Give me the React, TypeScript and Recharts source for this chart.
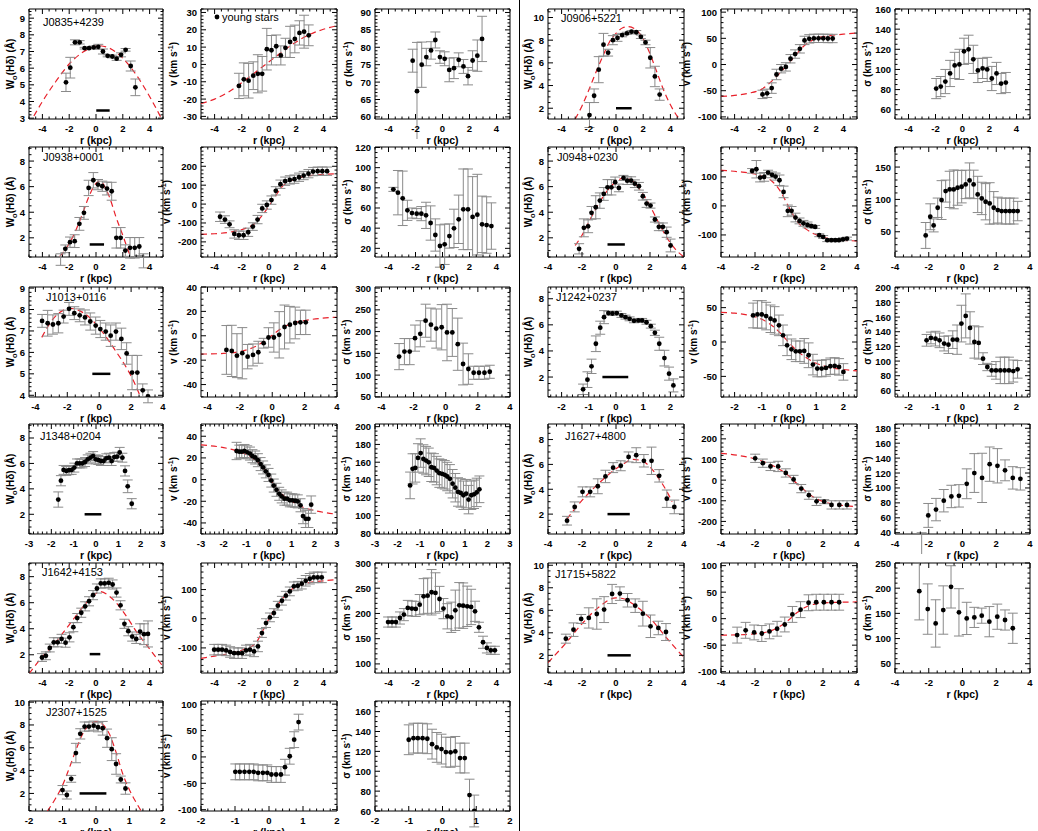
import React from 'react'
import {
  ComposedChart,
  Scatter,
  Line,
  XAxis,
  YAxis,
  ErrorBar,
  ReferenceLine,
  ReferenceArea,
} from 'recharts'

type Pt = [number, number, number] // r, value, error
type XY = [number, number]
type Bar = [number, number, number] // r from, r to, level

// ---------- left column ----------
const j0835W: Pt[] = [[-2.24,5.15,0.55],[-1.92,6.03,0.62],[-1.57,7.55,0.15],[-1.22,7.55,0.1],[-0.85,7.2,0.05],[-0.52,7.2,0.05],[-0.17,7.25,0.08],[0.17,7.28,0.15],[0.52,7.0,0.15],[0.87,6.74,0.06],[1.22,6.7,0.08],[1.54,6.57,0.1],[1.87,6.8,0.12],[2.21,7.1,0.08],[2.59,6.13,0.3],[2.94,4.85,0.5]]
const j0835WFit: XY[] = [[-5,2.6],[-4,4.0],[-3,5.2],[-2,6.25],[-1,6.95],[0,7.32],[0.2,7.35],[1,7.2],[2,6.6],[3,5.6],[4,4.3],[5,2.8]]
const j0835Bar: Bar = [0.02, 1.02, 3.46]
const j0835V: Pt[] = [[-2.21,-12.4,7.3],[-1.85,-8.6,9.5],[-1.5,-9.4,10],[-1.16,-6.5,8],[-0.82,-5.4,11],[-0.5,-5.4,10],[-0.16,8.8,12],[0.18,8.2,8.5],[0.53,10.5,6.5],[0.87,5.2,5.5],[1.21,9.6,5.5],[1.55,13,9],[1.9,14.7,8],[2.24,18.2,7],[2.58,18.9,9.5],[2.92,16.8,6]]
const j0835VFit: XY[] = [[-5,-22.5],[-4,-20],[-3,-16],[-2,-10.5],[-1,-4.5],[0,1.5],[1,7.5],[2,13],[3,17.3],[4,20.3],[5,22.3]]
const j0835S: Pt[] = [[-2.21,76.15,3.3],[-1.89,67.4,14],[-1.54,75.0,6.5],[-1.2,77.2,2.5],[-0.85,79.1,2.5],[-0.53,82.1,2.3],[-0.19,77.2,1.8],[0.16,76.7,2],[0.5,73.5,3.4],[0.85,74.0,3],[1.2,76.4,2],[1.55,74.5,2],[1.89,71.7,2.5],[2.23,76.2,2.8],[2.58,77.6,4.5],[2.93,82.4,6.5]]

const j0938W: Pt[] = [[-2.64,0.3,0.45],[-2.29,1.14,0.3],[-1.94,1.66,0.4],[-1.59,1.74,0.5],[-1.24,3.09,0.5],[-0.9,3.95,0.5],[-0.55,5.9,0.6],[-0.2,6.5,0.6],[0.15,6.16,0.4],[0.47,6.03,0.4],[0.82,5.85,0.5],[1.17,5.64,0.7],[1.52,2.0,0.8],[1.84,2.0,0.8],[2.19,1.0,0.45],[2.54,1.22,0.8],[2.89,1.22,0.8],[3.23,1.32,0.7],[3.55,0.2,0.55]]
const j0938WFit: XY[] = [[-2.7,0.55],[-2,1.55],[-1.5,2.6],[-1,3.9],[-0.5,5.3],[0,6.25],[0.3,6.45],[0.7,5.9],[1,5.2],[1.5,3.6],[2,2.2],[2.5,0.75],[2.7,0.3]]
const j0938Bar: Bar = [-0.47, 0.6, 1.48]
const j0938V: Pt[] = [[-3.6,-67,25],[-3.24,-82,20],[-2.9,-107,18],[-2.55,-158,22],[-2.21,-165,22],[-1.87,-165,22],[-1.53,-149,22],[-1.19,-119,20],[-0.84,-82,22],[-0.5,-23,22],[-0.16,-5,22],[0.18,21,22],[0.5,70,22],[0.84,105,22],[1.19,121,22],[1.53,128,22],[1.87,132,22],[2.21,142,22],[2.55,151,22],[2.9,161,22],[3.24,172,22],[3.58,174,22],[3.92,174,22],[4.27,174,22]]
const j0938VFit: XY[] = [[-5,-160],[-4,-157],[-3,-150],[-2,-135],[-1.5,-122],[-1,-100],[-0.5,-60],[0,-10],[0.5,45],[1,95],[1.5,120],[2,135],[3,150],[4,157],[5,160]]
const j0938S: Pt[] = [[-3.64,78.5,2],[-3.3,75.2,22],[-2.95,69.6,27],[-2.6,57.7,10],[-2.26,55,5],[-1.91,54.4,5],[-1.57,54.4,7],[-1.22,52.7,13],[-0.88,45.1,17],[-0.53,33.2,16],[-0.19,22.3,21],[0.16,24,20],[0.51,32.2,12],[0.85,39.8,19],[1.2,48.8,24],[1.54,58.7,40],[1.89,58.7,40],[2.23,51.1,40],[2.58,53.4,40],[2.93,43.8,28],[3.27,43.1,28],[3.62,42.1,23]]

const j1013W: Pt[] = [[-3.58,7.47,0.3],[-3.23,7.36,0.6],[-2.9,7.3,0.45],[-2.56,7.36,0.45],[-2.23,7.67,0.3],[-1.89,8.03,0.3],[-1.56,7.83,0.3],[-1.22,7.73,0.3],[-0.89,7.63,0.35],[-0.56,7.44,0.4],[-0.22,7.25,0.4],[0.07,7.09,0.4],[0.41,6.97,0.4],[0.72,6.78,0.5],[1.05,6.97,0.4],[1.39,6.63,0.5],[1.72,5.95,0.5],[2.06,5.06,0.8],[2.39,5.06,0.8],[2.73,4.23,0.3],[3.06,3.95,0.3]]
const j1013WFit: XY[] = [[-3.6,6.7],[-3,7.45],[-2.5,7.85],[-1.8,8.05],[-1,7.85],[-0.3,7.4],[0.4,6.75],[1,6.1],[1.7,5.3],[2.2,4.6],[2.6,3.9]]
const j1013Bar: Bar = [-0.43, 0.7, 5.0]
const j1013V: Pt[] = [[-2.83,-11.6,20],[-2.5,-12.4,21],[-2.18,-16.3,18],[-1.85,-14.3,21],[-1.52,-17.1,10],[-1.19,-15.7,9],[-0.86,-13.5,9],[-0.53,-6.1,4],[-0.23,-1.4,8],[0.1,-1.4,12],[0.43,0.8,19],[0.76,7.2,18],[1.09,9.1,15],[1.42,10.5,13],[1.74,11,10],[2.07,11,10]]
const j1013VFit: XY[] = [[-4.4,-15],[-3,-14.5],[-2,-13],[-1,-8.5],[-0.5,-4.5],[0,0.5],[0.5,5.5],[1,9],[2,12.5],[3,14.3],[4,15.2]]
const j1013S: Pt[] = [[-2.9,142.5,30],[-2.57,154,30],[-2.24,154,30],[-1.91,185,30],[-1.58,195,30],[-1.25,225,38],[-0.92,216,38],[-0.59,207,45],[-0.25,210,52],[0.08,198,65],[0.41,198,55],[0.75,171,60],[1.08,125.5,48],[1.41,114,35],[1.74,105.4,15],[2.07,105.4,15],[2.41,105.4,15],[2.74,107.7,15]]

const j1348W: Pt[] = [[-1.69,3.16,0.6],[-1.57,4.64,0.4],[-1.45,5.49,0.35],[-1.33,5.41,0.35],[-1.21,5.47,0.35],[-1.09,5.49,0.35],[-0.97,5.67,0.35],[-0.85,6.0,0.35],[-0.73,6.0,0.35],[-0.61,6.0,0.35],[-0.49,6.11,0.35],[-0.37,6.32,0.35],[-0.25,6.45,0.35],[-0.13,6.58,0.35],[-0.01,6.32,0.35],[0.1,6.27,0.35],[0.22,6.19,0.35],[0.34,6.19,0.35],[0.46,6.4,0.35],[0.58,6.45,0.35],[0.7,6.19,0.35],[0.82,6.5,0.35],[0.94,6.53,0.35],[1.06,6.86,0.4],[1.18,6.45,0.35],[1.3,5.41,0.4],[1.42,4.2,0.5],[1.6,2.83,0.4]]
const j1348Bar: Bar = [-0.51, 0.24, 2.0]
const j1348V: Pt[] = [[-1.43,26.4,8],[-1.31,25.8,6],[-1.2,25.8,6],[-1.08,26.4,6],[-0.96,25.2,6],[-0.84,24,6],[-0.73,21.6,6],[-0.61,20.4,6],[-0.49,17.9,6],[-0.37,14.3,6],[-0.26,11.2,6],[-0.14,7.6,6],[-0.02,4.3,6],[0.1,-0.9,6],[0.21,-5.5,6],[0.33,-9.4,6],[0.45,-13.1,6],[0.56,-15.5,6],[0.68,-17.6,6],[0.8,-17.6,6],[0.92,-19.1,6],[1.03,-19.1,6],[1.15,-19.5,6],[1.27,-20.1,6],[1.39,-23.7,6],[1.5,-33.7,7],[1.62,-36.2,8],[1.74,-36.2,8],[1.86,-23.1,8]]
const j1348VFit: XY[] = [[-3,32],[-2,29.5],[-1.5,27],[-1,23],[-0.5,16],[0,3],[0.3,-7],[0.6,-14],[1,-20],[1.5,-25.5],[2,-28.5],[3,-32]]
const j1348S: Pt[] = [[-1.44,133.9,15],[-1.33,152.5,17],[-1.21,153.6,16],[-1.09,164.8,16],[-0.97,170.3,16],[-0.85,163.6,16],[-0.73,161.8,16],[-0.61,159.9,16],[-0.5,154.3,16],[-0.38,153.6,16],[-0.26,150.6,16],[-0.14,147.7,16],[-0.02,146.9,16],[0.1,145.8,16],[0.21,143.9,16],[0.33,141.3,16],[0.45,135.8,16],[0.57,131.3,16],[0.69,126.5,16],[0.81,125.4,16],[0.93,122.8,16],[1.05,124.6,16],[1.16,117.9,16],[1.28,122.8,16],[1.4,123.9,16],[1.52,126,16],[1.64,129.5,15]]

const j1642W: Pt[] = [[-4.03,1.79,0.3],[-3.74,1.92,0.3],[-3.45,2.52,0.3],[-3.15,2.96,0.35],[-2.86,2.96,0.35],[-2.57,3.22,0.35],[-2.27,2.93,0.35],[-1.98,3.34,0.35],[-1.69,4.12,0.35],[-1.4,4.82,0.35],[-1.1,5.23,0.35],[-0.81,5.72,0.35],[-0.52,6.11,0.35],[-0.22,6.58,0.35],[0.07,7.09,0.35],[0.36,7.48,0.35],[0.65,7.48,0.35],[0.95,7.53,0.35],[1.24,7.4,0.35],[1.53,6.78,0.35],[1.83,5.8,0.35],[2.12,4.38,0.35],[2.41,3.81,0.35],[2.7,3.4,0.35],[3.0,3.22,0.35],[3.29,3.78,0.6],[3.58,3.58,0.8],[3.88,3.6,1.0]]
const j1642WFit: XY[] = [[-5,0.55],[-4,1.85],[-3,3.0],[-2,4.3],[-1,5.65],[0,6.7],[0.3,6.85],[1,6.5],[2,5.35],[2.5,4.6],[3,3.8],[4,2.45],[5,1.1]]
const j1642Bar: Bar = [-0.47, 0.32, 2.05]
const j1642V: Pt[] = [[-4.03,-106,18],[-3.74,-106,18],[-3.45,-106,18],[-3.15,-108.6,18],[-2.86,-114,18],[-2.57,-118,18],[-2.27,-118,18],[-1.98,-118,18],[-1.69,-108.6,18],[-1.4,-106,18],[-1.1,-112,18],[-0.81,-95,18],[-0.52,-49,15],[-0.22,-15,15],[0.07,4.6,15],[0.36,19.4,15],[0.65,44.6,15],[0.95,61.7,15],[1.24,78.9,15],[1.53,93.7,15],[1.83,110.9,15],[2.12,113,15],[2.41,120,18],[2.7,130,18],[3.0,137,18],[3.29,141.7,18],[3.58,141.7,18],[3.88,141.7,18]]
const j1642VFit: XY[] = [[-5,-136],[-4,-128],[-3,-120],[-2,-108],[-1,-85],[-0.5,-45],[0,0],[0.5,38],[1,70],[1.5,95],[2,110],[3,124],[4,130],[5,134]]
const j1642S: Pt[] = [[-4.03,183,10],[-3.74,183,10],[-3.45,183,10],[-3.15,191,12],[-2.86,197.7,12],[-2.57,210.9,15],[-2.27,209.6,15],[-1.98,209,15],[-1.69,217.5,20],[-1.4,234,35],[-1.1,235.3,35],[-0.81,242,45],[-0.52,240.6,40],[-0.22,228.7,25],[0.07,209.6,20],[0.36,194.4,25],[0.65,192.4,30],[0.95,206.3,40],[1.24,216.2,45],[1.53,215.5,45],[1.83,214.2,40],[2.12,212.9,35],[2.41,204.3,20],[2.7,172.6,10],[3.0,142.9,12],[3.29,131.7,10],[3.58,127,8],[3.88,127,8]]

const j2307W: Pt[] = [[-1.0,2.29,0.4],[-0.87,1.86,0.35],[-0.74,3.28,0.3],[-0.6,5.54,0.85],[-0.47,7.22,0.45],[-0.34,7.86,0.4],[-0.21,7.86,0.4],[-0.07,7.94,0.4],[0.06,7.8,0.4],[0.2,7.71,0.6],[0.33,6.84,0.8],[0.47,5.88,1.0],[0.6,4.58,0.9],[0.74,3.22,0.3],[0.88,2.43,0.5]]
const j2307WFit: XY[] = [[-1.45,0.45],[-1.2,1.6],[-1,2.7],[-0.8,4.2],[-0.6,5.8],[-0.4,7.2],[-0.2,8.0],[0,8.3],[0.2,8.05],[0.4,7.2],[0.6,5.6],[0.8,3.7],[1,2.3],[1.2,1.2],[1.35,0.45]]
const j2307Bar: Bar = [-0.49, 0.31, 2.0]
const j2307V: Pt[] = [[-0.99,-28.3,15],[-0.86,-28.3,15],[-0.72,-28.3,15],[-0.58,-28.3,15],[-0.45,-28.3,15],[-0.32,-30.2,15],[-0.18,-30.2,15],[-0.05,-30.2,15],[0.07,-33.3,15],[0.21,-33.3,15],[0.35,-33.3,15],[0.47,-19.5,15],[0.61,1.3,15],[0.74,32.7,15],[0.87,66,15]]
const j2307S: Pt[] = [[-1.0,131.7,15],[-0.86,133.3,15],[-0.73,133.3,15],[-0.59,133.3,15],[-0.45,132.7,15],[-0.31,127.3,15],[-0.17,124,15],[-0.03,122.3,15],[0.1,119.3,15],[0.24,119,15],[0.38,120,15],[0.52,113.3,15],[0.66,113.3,15],[0.8,76,16],[0.94,60,16]]

// ---------- right column ----------
const j0906W: Pt[] = [[-1.95,1.4,1.1],[-1.61,3.1,0.6],[-1.27,5.4,1.15],[-0.92,7.6,1.0],[-0.58,6.9,0.3],[-0.23,8.0,0.4],[0.11,8.2,0.3],[0.45,8.45,0.15],[0.8,8.6,0.1],[1.14,8.75,0.1],[1.49,8.7,0.15],[1.83,8.3,0.15],[2.17,7.8,0.2],[2.52,6.45,0.9],[2.86,4.8,0.9],[3.21,3.2,0.5]]
const j0906WFit: XY[] = [[-3,1.05],[-2.5,2.2],[-2,3.6],[-1.5,5.1],[-1,6.5],[-0.5,7.8],[0,8.6],[0.5,9.1],[0.9,9.2],[1.5,8.9],[2,8.1],[2.5,6.8],[3,5.2],[3.5,3.6],[4,2.3],[4.5,1.3],[4.7,1.0]]
const j0906Bar: Bar = [0, 1.15, 2.0]
const j0906V: Pt[] = [[-1.95,-57,8],[-1.61,-55,8],[-1.27,-45,10],[-0.92,-19,10],[-0.58,-8,8],[-0.23,-4.5,8],[0.11,11,8],[0.45,20,8],[0.8,30,8],[1.14,46,8],[1.49,49,8],[1.83,50,8],[2.17,50,8],[2.52,50,8],[2.86,49.7,8],[3.21,49.7,8]]
const j0906VFit: XY[] = [[-5,-61],[-4,-59],[-3,-55],[-2,-47],[-1,-25],[0,3],[0.5,18],[1,33],[1.5,43],[2,50],[3,55],[4,58],[5,60]]
const j0906S: Pt[] = [[-1.95,81,10],[-1.61,83,10],[-1.27,88,12],[-0.92,96,13],[-0.58,104,13],[-0.23,105,15],[0.11,118,13],[0.45,120,14],[0.8,110,14],[1.14,99,12],[1.49,101,10],[1.83,100,12],[2.17,91,12],[2.52,96,11],[2.86,86,10],[3.21,87,10]]

const j0948W: Pt[] = [[-2.17,1.14,0.4],[-1.89,2.78,0.7],[-1.64,2.9,0.5],[-1.44,3.95,0.5],[-1.19,4.39,0.9],[-0.95,4.91,0.6],[-0.72,5.43,0.5],[-0.5,5.95,0.6],[-0.27,5.95,0.6],[-0.05,6.35,0.4],[0.17,5.9,0.3],[0.44,6.68,0.2],[0.66,6.47,0.3],[0.89,6.47,0.3],[1.11,6.23,0.3],[1.35,6.03,0.3],[1.58,5.25,0.3],[1.8,4.68,0.3],[2.03,4.52,0.2],[2.29,3.43,0.2],[2.52,2.86,0.3],[2.76,2.86,0.3],[2.98,2.44,0.4],[3.21,1.4,0.5]]
const j0948WFit: XY[] = [[-2.4,1.4],[-2,2.2],[-1.5,3.5],[-1,4.7],[-0.5,5.7],[0,6.4],[0.5,6.7],[1,6.4],[1.5,5.6],[2,4.5],[2.5,3.2],[3,2.0],[3.5,1.1],[4,0.5]]
const j0948Bar: Bar = [-0.5, 0.52, 1.48]
const j0948V: Pt[] = [[-2.17,120.7,8],[-1.92,126.4,30],[-1.7,97.7,15],[-1.46,100,15],[-1.23,115,8],[-1.0,107,10],[-0.79,101,12],[-0.56,88.5,18],[-0.32,48.3,20],[-0.07,-17,20],[0.15,-17,15],[0.38,-40,15],[0.62,-51.7,10],[0.85,-60,10],[1.09,-65.5,10],[1.31,-69,5],[1.54,-72.4,5],[1.78,-101,5],[2.01,-107,5],[2.25,-118,5],[2.49,-118,5],[2.72,-118,5],[2.94,-118,5],[3.18,-115,5],[3.41,-112.6,5]]
const j0948VFit: XY[] = [[-4,123],[-3,118],[-2,110],[-1.5,100],[-1,85],[-0.5,50],[0,-5],[0.5,-55],[1,-80],[1.5,-97],[2,-108],[3,-117],[4,-121]]
const j0948S: Pt[] = [[-2.18,44.3,20],[-1.91,73.2,20],[-1.71,59.8,10],[-1.47,87.1,15],[-1.24,99,30],[-1.0,112.9,17],[-0.76,115.5,28],[-0.52,115.5,30],[-0.29,118,27],[-0.05,119.6,25],[0.19,123.2,22],[0.42,129.4,27],[0.66,123.2,22],[0.9,107.7,28],[1.14,101.5,25],[1.37,96.4,28],[1.61,93.8,32],[1.85,87.1,25],[2.09,83.5,20],[2.32,82,20],[2.56,82,20],[2.8,82,20],[3.03,82,20],[3.27,82,15]]

const j1242W: Pt[] = [[-1.21,1.06,0.4],[-1.05,1.8,0.6],[-0.9,2.82,0.55],[-0.74,4.55,0.6],[-0.58,5.78,0.5],[-0.44,6.59,0.5],[-0.28,6.9,0.15],[-0.13,6.87,0.15],[0.03,6.9,0.15],[0.2,6.72,0.15],[0.35,6.59,0.15],[0.5,6.46,0.15],[0.66,6.31,0.15],[0.82,6.34,0.15],[0.96,6.34,0.15],[1.12,6.2,0.15],[1.28,5.9,0.15],[1.43,5.39,0.2],[1.59,4.55,0.5],[1.78,3.45,0.6],[1.95,2.26,0.5],[2.11,1.36,0.5]]
const j1242Bar: Bar = [-0.5, 0.45, 2.0]
const j1242V: Pt[] = [[-1.32,38.6,18],[-1.16,40.1,20],[-1.0,40.1,20],[-0.84,37.7,20],[-0.68,33.8,20],[-0.53,31.4,20],[-0.37,24.2,15],[-0.22,9.7,15],[-0.07,-4.8,15],[0.09,-10.6,15],[0.25,-13.5,15],[0.4,-13.5,15],[0.56,-13,18],[0.72,-19.3,18],[0.88,-32.9,15],[1.04,-38.6,12],[1.2,-38.6,12],[1.36,-37.7,12],[1.52,-35.3,12],[1.68,-34.8,12],[1.84,-36.2,12],[2.0,-43.5,12]]
const j1242VFit: XY[] = [[-2.5,43],[-2,42],[-1.5,39],[-1,33],[-0.5,20],[-0.2,8],[0,-1],[0.3,-13],[0.6,-22],[1,-31],[1.5,-37],[2,-40],[2.5,-42]]
const j1242S: Pt[] = [[-1.33,128.3,8],[-1.17,131.5,8],[-1.0,130.6,10],[-0.85,128.3,10],[-0.68,123.8,10],[-0.52,122.4,12],[-0.36,129.2,12],[-0.2,129.2,20],[-0.04,151.1,25],[0.12,161.6,30],[0.28,145.2,22],[0.44,126,22],[0.6,124.7,22],[0.76,103.3,8],[0.92,91.9,5],[1.08,87.3,8],[1.24,87.3,12],[1.4,87.3,18],[1.56,87.3,18],[1.72,87.3,18],[1.88,86.4,15],[2.04,88.7,12]]

const j1627W: Pt[] = [[-2.88,1.47,0.35],[-2.43,2.58,0.4],[-1.97,3.79,0.4],[-1.52,3.79,0.4],[-1.07,4.24,0.6],[-0.62,5.03,0.5],[-0.17,5.74,0.4],[0.28,5.89,0.4],[0.74,6.6,0.4],[1.19,6.74,0.6],[1.64,6.29,0.5],[2.09,6.29,1.1],[2.54,5.08,0.5],[2.99,3.24,0.7],[3.43,2.58,0.55]]
const j1627WFit: XY[] = [[-2.9,1.6],[-2,3.1],[-1,4.5],[0,5.65],[0.5,6.1],[1,6.4],[1.5,6.3],[2,5.8],[2.5,4.9],[3,3.8],[3.3,3.0]]
const j1627Bar: Bar = [-0.5, 0.81, 2.0]
const j1627V: Pt[] = [[-1.99,105.8,20],[-1.54,82.1,20],[-1.09,66.4,20],[-0.64,66.4,25],[-0.19,34.8,20],[0.27,3.2,20],[0.72,-41,20],[1.17,-72.7,20],[1.62,-102.7,20],[2.07,-104.3,10],[2.5,-120,20],[2.96,-120,20],[3.41,-120,20]]
const j1627VFit: XY[] = [[-4,130],[-3,120],[-2,103],[-1,72],[0,20],[0.5,-20],[1,-55],[1.5,-85],[2,-103],[3,-121],[4,-128]]
const j1627S: Pt[] = [[-2.42,25,15],[-2.03,63.2,16],[-1.57,71,15],[-1.11,82.9,15],[-0.66,88.6,15],[-0.21,89.4,15],[0.25,105.6,20],[0.7,120,26],[1.16,113.5,33],[1.61,131.9,23],[2.07,129.7,23],[2.52,123.6,14],[2.98,113.5,15],[3.43,112.2,15]]

const j1715W: Pt[] = [[-2.95,3.48,0.4],[-2.5,4.28,0.6],[-2.05,5.23,0.4],[-1.6,5.32,0.9],[-1.13,5.67,1.35],[-0.7,6.06,1.15],[-0.23,7.45,0.85],[0.23,7.48,0.6],[0.68,6.89,0.6],[1.13,6.41,0.6],[1.58,5.7,1.1],[2.03,4.58,1.0],[2.49,4.43,0.6],[2.94,4.07,0.75]]
const j1715WFit: XY[] = [[-4,1.35],[-3,3.0],[-2,4.8],[-1,6.3],[0,7.1],[0.5,7.0],[1,6.55],[2,5.3],[3,3.5],[4,1.8]]
const j1715Bar: Bar = [-0.5, 0.87, 2.0]
const j1715V: Pt[] = [[-3.05,-31,15],[-2.55,-22,15],[-2.05,-26,14],[-1.6,-28,15],[-1.15,-24,14],[-0.7,-19,14],[-0.25,-11,14],[0.2,8,15],[0.68,17,15],[1.15,30,15],[1.6,31,15],[2.05,31,15],[2.5,31,15],[2.95,31,15]]
const j1715VFit: XY[] = [[-4,-31],[-3,-30.5],[-2,-28.5],[-1,-22],[-0.5,-14],[0,-2],[0.5,12],[1,22],[1.5,27.5],[2,29.5],[3,31],[4,31.5]]
const j1715S: Pt[] = [[-2.56,194,57],[-2.06,158.5,50],[-1.59,130,47],[-1.14,156.6,48],[-0.68,202.6,42],[-0.21,152,47],[0.25,140,32],[0.7,142,20],[1.14,145.4,15],[1.59,133.5,30],[2.06,143.4,25],[2.52,136.8,20],[2.98,120.4,30]]

// ---------- axes (range, labelled ticks, minor step) ----------
type Axis = { d: [number, number]; t: number[]; m: number }
const x5: Axis = { d: [-5, 5], t: [-4, -2, 0, 2, 4], m: 0.5 }
const x44: Axis = { d: [-4.4, 4], t: [-4, -2, 0, 2, 4], m: 0.5 }
const x4: Axis = { d: [-4, 4], t: [-4, -2, 0, 2, 4], m: 0.5 }
const x3: Axis = { d: [-3, 3], t: [-3, -2, -1, 0, 1, 2, 3], m: 0.2 }
const x2: Axis = { d: [-2, 2], t: [-2, -1, 0, 1, 2], m: 0.2 }
const x25: Axis = { d: [-2.5, 2.5], t: [-2, -1, 0, 1, 2], m: 0.2 }
const wTicks8 = [2, 4, 6, 8]
const wTicks10 = [2, 4, 6, 8, 10]

// layout
const colX = [29, 201, 375, 548, 721, 895]
const colW = [134, 136, 135, 136, 136, 135]
const rowY = [9, 147, 287, 424, 563, 701]
const H = 110
const FONT = '"Liberation Sans", Arial, Helvetica, sans-serif'

type Kind = 'W' | 'v' | 's'
type PanelCfg = {
  col: number
  row: number
  x: Axis
  y: Axis
  pts: Pt[]
  fit?: XY[]
  bar?: Bar
  kind: Kind
  tx: number
  name?: string
  nx?: number
  ny?: number
}

const panels: PanelCfg[] = [
  { col: 0, row: 0, x: x5, y: { d: [2.95, 9.55], t: [3, 4, 5, 6, 7, 8, 9], m: 0.2 }, pts: j0835W, fit: j0835WFit, bar: j0835Bar, kind: 'W', tx: 10, name: 'J0835+4239', nx: 14, ny: 13 },
  { col: 1, row: 0, x: x5, y: { d: [-31.5, 32], t: [-30, -20, -10, 0, 10, 20, 30], m: 2 }, pts: j0835V, fit: j0835VFit, kind: 'v', tx: 173 },
  { col: 2, row: 0, x: x5, y: { d: [59.4, 91], t: [60, 65, 70, 75, 80, 85, 90], m: 1 }, pts: j0835S, kind: 's', tx: 348 },
  { col: 0, row: 1, x: x5, y: { d: [0.5, 9.1], t: wTicks8, m: 0.5 }, pts: j0938W, fit: j0938WFit, bar: j0938Bar, kind: 'W', tx: 10, name: 'J0938+0001', nx: 14, ny: 10 },
  { col: 1, row: 1, x: x5, y: { d: [-280, 302], t: [-200, -100, 0, 100, 200], m: 20 }, pts: j0938V, fit: j0938VFit, kind: 'v', tx: 166 },
  { col: 2, row: 1, x: x5, y: { d: [11.4, 120.5], t: [20, 40, 60, 80, 100, 120], m: 5 }, pts: j0938S, kind: 's', tx: 347 },
  { col: 0, row: 2, x: x44, y: { d: [3.92, 9.05], t: [4, 5, 6, 7, 8, 9], m: 0.2 }, pts: j1013W, fit: j1013WFit, bar: j1013Bar, kind: 'W', tx: 10, name: 'J1013+0116', nx: 17, ny: 10 },
  { col: 1, row: 2, x: x44, y: { d: [-50.2, 40], t: [-40, -20, 0, 20, 40], m: 5 }, pts: j1013V, fit: j1013VFit, kind: 'v', tx: 173 },
  { col: 2, row: 2, x: x44, y: { d: [49.7, 302.5], t: [50, 100, 150, 200, 250, 300], m: 10 }, pts: j1013S, kind: 's', tx: 346 },
  { col: 0, row: 3, x: x3, y: { d: [0.45, 9.1], t: wTicks8, m: 0.5 }, pts: j1348W, bar: j1348Bar, kind: 'W', tx: 10, name: 'J1348+0204', nx: 11, ny: 12 },
  { col: 1, row: 3, x: x3, y: { d: [-50.2, 51.3], t: [-40, -20, 0, 20, 40], m: 5 }, pts: j1348V, fit: j1348VFit, kind: 'v', tx: 173 },
  { col: 2, row: 3, x: x3, y: { d: [79.2, 203], t: [80, 100, 120, 140, 160, 180, 200], m: 5 }, pts: j1348S, kind: 's', tx: 346 },
  { col: 0, row: 4, x: x5, y: { d: [0.6, 9.05], t: wTicks8, m: 0.5 }, pts: j1642W, fit: j1642WFit, bar: j1642Bar, kind: 'W', tx: 10, name: 'J1642+4153', nx: 13, ny: 9 },
  { col: 1, row: 4, x: x5, y: { d: [-186, 191], t: [-100, 0, 100], m: 20 }, pts: j1642V, fit: j1642VFit, kind: 'v', tx: 166 },
  { col: 2, row: 4, x: x5, y: { d: [82, 300], t: [100, 150, 200, 250, 300], m: 10 }, pts: j1642S, kind: 's', tx: 346 },
  { col: 0, row: 5, x: x2, y: { d: [0.46, 10.1], t: wTicks10, m: 0.5 }, pts: j2307W, fit: j2307WFit, bar: j2307Bar, kind: 'W', tx: 10, name: 'J2307+1525', nx: 17, ny: 11 },
  { col: 1, row: 5, x: x2, y: { d: [-102.5, 106], t: [-100, -50, 0, 50, 100], m: 10 }, pts: j2307V, kind: 'v', tx: 166 },
  { col: 2, row: 5, x: x2, y: { d: [60, 170.7], t: [60, 80, 100, 120, 140, 160], m: 5 }, pts: j2307S, kind: 's', tx: 346 },

  { col: 3, row: 0, x: x5, y: { d: [1.05, 10.75], t: wTicks10, m: 0.5 }, pts: j0906W, fit: j0906WFit, bar: j0906Bar, kind: 'W', tx: 528, name: 'J0906+5221', nx: 13, ny: 9 },
  { col: 4, row: 0, x: x5, y: { d: [-104, 106], t: [-100, -50, 0, 50, 100], m: 10 }, pts: j0906V, fit: j0906VFit, kind: 'v', tx: 686 },
  { col: 5, row: 0, x: x5, y: { d: [50.8, 160], t: [60, 80, 100, 120, 140, 160], m: 5 }, pts: j0906S, kind: 's', tx: 867 },
  { col: 3, row: 1, x: x4, y: { d: [0.5, 9.1], t: wTicks8, m: 0.5 }, pts: j0948W, fit: j0948WFit, bar: j0948Bar, kind: 'W', tx: 528, name: 'J0948+0230', nx: 9, ny: 10 },
  { col: 4, row: 1, x: x4, y: { d: [-176, 203], t: [-100, 0, 100], m: 20 }, pts: j0948V, fit: j0948VFit, kind: 'v', tx: 686 },
  { col: 5, row: 1, x: x4, y: { d: [11, 181], t: [50, 100, 150], m: 10 }, pts: j0948S, kind: 's', tx: 867 },
  { col: 3, row: 2, x: x25, y: { d: [0.47, 8.9], t: wTicks8, m: 0.5 }, pts: j1242W, bar: j1242Bar, kind: 'W', tx: 528, name: 'J1242+0237', nx: 8, ny: 10 },
  { col: 4, row: 2, x: x25, y: { d: [-80, 80], t: [-50, 0, 50], m: 10 }, pts: j1242V, fit: j1242VFit, kind: 'v', tx: 693 },
  { col: 5, row: 2, x: x25, y: { d: [51, 201], t: [60, 80, 100, 120, 140, 160, 180, 200], m: 5 }, pts: j1242S, kind: 's', tx: 867 },
  { col: 3, row: 3, x: x4, y: { d: [0.4, 9.25], t: wTicks8, m: 0.5 }, pts: j1627W, fit: j1627WFit, bar: j1627Bar, kind: 'W', tx: 528, name: 'J1627+4800', nx: 17, ny: 12 },
  { col: 4, row: 3, x: x4, y: { d: [-261, 272], t: [-200, -100, 0, 100, 200], m: 20 }, pts: j1627V, fit: j1627VFit, kind: 'v', tx: 686 },
  { col: 5, row: 3, x: x4, y: { d: [38.3, 185.7], t: [40, 60, 80, 100, 120, 140, 160, 180], m: 5 }, pts: j1627S, kind: 's', tx: 867 },
  { col: 3, row: 4, x: x4, y: { d: [0.43, 10.2], t: wTicks10, m: 0.5 }, pts: j1715W, fit: j1715WFit, bar: j1715Bar, kind: 'W', tx: 528, name: 'J1715+5822', nx: 7, ny: 11 },
  { col: 4, row: 4, x: x4, y: { d: [-102.5, 105], t: [-100, -50, 0, 50, 100], m: 10 }, pts: j1715V, fit: j1715VFit, kind: 'v', tx: 686 },
  { col: 5, row: 4, x: x4, y: { d: [31.6, 250], t: [50, 100, 150, 200, 250], m: 10 }, pts: j1715S, kind: 's', tx: 867 },
]

const ML = 40
const MT = 10
const MR = 8
const MB = 20
const TICK_FONT = 9.5

const fmt = (v: number) => (v < 0 ? '-' + Math.abs(v) : String(v))

// labelled ticks plus the small in-between ones
function allTicks(a: Axis) {
  const out = new Set<number>(a.t)
  const start = Math.ceil(a.d[0] / a.m - 1e-9)
  for (let i = start; i * a.m <= a.d[1] + 1e-9; i++) out.add(+(i * a.m).toFixed(4))
  return Array.from(out).sort((p, q) => p - q)
}

const isMajor = (a: Axis, v: number) => a.t.some((t) => Math.abs(t - v) < 1e-6)

const Dot = (props: any) => <circle cx={props.cx} cy={props.cy} r={2.4} fill="#000" />

function Panel({ p }: { p: PanelCfg }) {
  const w = colW[p.col]
  const left = colX[p.col]
  const top = rowY[p.row]
  const pts = p.pts.map(([x, y, e]) => ({ x, y, e }))
  const fit = p.fit ? p.fit.map(([x, y]) => ({ x, y })) : null

  const xTick = (props: any) => {
    const { x, y, payload } = props
    const maj = isMajor(p.x, payload.value)
    const len = maj ? 5 : 2.5
    return (
      <g>
        <line x1={x} x2={x} y1={y} y2={y - len} stroke="#000" />
        <line x1={x} x2={x} y1={y - H} y2={y - H + len} stroke="#000" />
        {maj && (
          <text x={x} y={y + 13} textAnchor="middle" fontSize={TICK_FONT} fontWeight="bold" fontFamily={FONT} fill="#000">
            {fmt(payload.value)}
          </text>
        )}
      </g>
    )
  }
  const yTick = (props: any) => {
    const { x, y, payload } = props
    const maj = isMajor(p.y, payload.value)
    const len = maj ? 5 : 2.5
    return (
      <g>
        <line x1={x} x2={x + len} y1={y} y2={y} stroke="#000" />
        <line x1={x + w} x2={x + w - len} y1={y} y2={y} stroke="#000" />
        {maj && (
          <text x={x - 4} y={y + 3.5} textAnchor="end" fontSize={TICK_FONT} fontWeight="bold" fontFamily={FONT} fill="#000">
            {fmt(payload.value)}
          </text>
        )}
      </g>
    )
  }

  return (
    <div style={{ position: 'absolute', left: left - ML, top: top - MT }}>
      <ComposedChart
        width={ML + w + MR}
        height={MT + H + MB}
        margin={{ top: MT, right: MR, bottom: 0, left: 0 }}
      >
        <XAxis
          dataKey="x"
          type="number"
          domain={p.x.d}
          ticks={allTicks(p.x)}
          interval={0}
          allowDataOverflow
          tick={xTick}
          tickLine={false}
          tickSize={0}
          tickMargin={0}
          axisLine={false}
          height={MB}
        />
        <YAxis
          dataKey="y"
          type="number"
          domain={p.y.d}
          ticks={allTicks(p.y)}
          interval={0}
          allowDataOverflow
          tick={yTick}
          tickLine={false}
          tickSize={0}
          tickMargin={0}
          axisLine={false}
          width={ML}
        />
        {fit && (
          <Line
            data={fit}
            dataKey="y"
            type="monotone"
            stroke="#e8202a"
            strokeWidth={1.2}
            strokeDasharray="6 4"
            dot={false}
            isAnimationActive={false}
          />
        )}
        {p.bar && (
          <ReferenceLine
            segment={[
              { x: p.bar[0], y: p.bar[2] },
              { x: p.bar[1], y: p.bar[2] },
            ]}
            stroke="#000"
            strokeWidth={2.5}
          />
        )}
        <Scatter data={pts} dataKey="y" shape={Dot} isAnimationActive={false}>
          <ErrorBar dataKey="e" direction="y" width={5} stroke="#8a8a8a" strokeWidth={1} isAnimationActive={false} />
        </Scatter>
        <ReferenceArea
          x1={p.x.d[0]}
          x2={p.x.d[1]}
          y1={p.y.d[0]}
          y2={p.y.d[1]}
          fill="none"
          fillOpacity={0}
          stroke="#000"
          strokeWidth={1}
          ifOverflow="visible"
        />
      </ComposedChart>
    </div>
  )
}

function YTitle({ kind, x, y }: { kind: Kind; x: number; y: number }) {
  const common = {
    transform: `translate(${x},${y}) rotate(-90)`,
    textAnchor: 'middle' as const,
    fontSize: 10,
    fontWeight: 'bold' as const,
    fontFamily: FONT,
    fill: '#000',
  }
  if (kind === 'W')
    return (
      <text {...common} dy={4}>
        W<tspan dy={3} fontSize={7.5}>o</tspan>
        <tspan dy={-3}>(Hδ)  (Å)</tspan>
      </text>
    )
  return (
    <text {...common} dy={4}>
      {kind === 'v' ? 'v' : 'σ'} (km s<tspan dy={-4} fontSize={7}>-1</tspan>
      <tspan dy={4}>)</tspan>
    </text>
  )
}

export default function App() {
  return (
    <div
      style={{
        position: 'absolute',
        left: 0,
        top: 0,
        width: 1038,
        height: 831,
        background: '#fff',
        overflow: 'hidden',
      }}
    >
      {panels.map((p, i) => (
        <Panel key={i} p={p} />
      ))}
      <svg
        width={1038}
        height={831}
        style={{ position: 'absolute', left: 0, top: 0, pointerEvents: 'none' }}
      >
        <line x1={519.5} x2={519.5} y1={0} y2={831} stroke="#000" strokeWidth={1} />
        {panels.map((p, i) => {
          const left = colX[p.col]
          const top = rowY[p.row]
          const w = colW[p.col]
          return (
            <g key={i}>
              <YTitle kind={p.kind} x={p.tx} y={top + H / 2} />
              <text
                x={left + w / 2}
                y={top + H + 25}
                textAnchor="middle"
                fontSize={10.5}
                fontWeight="bold"
                fontFamily={FONT}
              >
                r (kpc)
              </text>
              {p.name && (
                <text x={left + (p.nx ?? 13)} y={top + (p.ny ?? 10) + 4} fontSize={11} fontFamily={FONT}>
                  {p.name}
                </text>
              )}
            </g>
          )
        })}
        <circle cx={217} cy={17} r={2.4} fill="#000" />
        <text x={222} y={21} fontSize={11} fontFamily={FONT}>
          young stars
        </text>
      </svg>
    </div>
  )
}
